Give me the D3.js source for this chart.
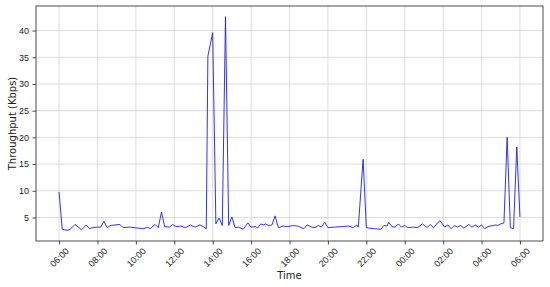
<!DOCTYPE html>
<html>
<head>
<meta charset="utf-8">
<script src="https://cdn.jsdelivr.net/npm/d3@7"></script>
<style>
  body { margin: 0; background: #fff; }
  svg { font-family: "DejaVu Sans", sans-serif; }
  .grid line { stroke: #d4d4d4; stroke-width: 0.8; }
</style>
</head>
<body>
<script>
// sample clock times (day rolls over after midnight)
const times = [
  '06:00','06:10','06:25','06:35','06:50','07:10','07:25','07:35','07:45','08:00',
  '08:10','08:20','08:30','08:40','08:55','09:10','09:20','09:40','09:55','10:10',
  '10:25','10:35','10:45','11:00','11:10','11:20','11:30','11:45','11:55','12:05',
  '12:20','12:35','12:50','13:05','13:20','13:30','13:40','13:45','14:00','14:10',
  '14:20','14:30','14:40','14:50','15:00','15:10','15:20','15:35','15:50','16:00',
  '16:15','16:20','16:30','16:40','16:45','16:55','17:05','17:15','17:25','17:40',
  '17:55','18:10','18:25','18:45','18:55','19:10','19:20','19:30','19:40','19:50',
  '20:00','20:20','20:45','21:05','21:20','21:30','21:35','21:50','22:00','22:10',
  '22:25','22:45','22:55','23:05','23:10','23:20','23:30','23:40','23:50','00:00',
  '00:10','00:25','00:40','00:55','01:10','01:20','01:30','01:40','01:50','02:05',
  '02:15','02:25','02:35','02:45','02:55','03:05','03:20','03:30','03:40','03:50',
  '04:00','04:10','04:20','04:35','04:45','04:50','05:00','05:10','05:20','05:30',
  '05:40','05:50','06:00'
];
const throughput = [
  9.8, 2.8, 2.6, 2.8, 3.7, 2.7, 3.6, 2.9, 3.1, 3.2,
  3.2, 4.3, 3.1, 3.5, 3.6, 3.7, 3.1, 3.2, 3.1, 3.0,
  2.9, 3.2, 2.9, 3.7, 3.1, 6.0, 3.3, 3.2, 3.7, 3.3,
  3.4, 3.1, 3.6, 3.2, 3.6, 3.3, 2.9, 35.2, 39.6, 3.8,
  4.9, 3.5, 42.6, 3.5, 5.1, 3.1, 3.2, 2.8, 4.0, 3.2,
  3.3, 3.0, 3.8, 3.6, 3.8, 3.5, 3.6, 5.3, 3.1, 3.4,
  3.3, 3.5, 3.4, 2.9, 3.6, 3.2, 3.1, 3.5, 3.2, 4.1,
  3.1, 3.2, 3.3, 3.4, 3.1, 3.6, 3.2, 15.9, 3.1, 3.0,
  2.9, 2.8, 3.5, 3.4, 4.1, 3.3, 3.2, 3.8, 3.2, 3.5,
  3.1, 3.2, 3.1, 3.8, 3.1, 3.7, 3.1, 3.8, 4.4, 3.2,
  3.6, 2.9, 3.5, 3.2, 3.5, 3.0, 3.7, 3.2, 3.6, 3.2,
  3.6, 2.9, 3.3, 3.5, 3.6, 3.5, 3.8, 4.0, 20.0, 3.1,
  2.9, 18.2, 5.1
];
const yTicks = [5, 10, 15, 20, 25, 30, 35, 40];

const W = 550, H = 287;
const margin = {top: 6, right: 7, bottom: 46, left: 36};
const width = W - margin.left - margin.right;
const height = H - margin.top - margin.bottom;

// build dates, adding a day when the clock wraps
const parse = d3.timeParse('%Y-%m-%d %H:%M');
let dayOffset = 0, prev = null;
const data = times.map((t, i) => {
  let d = d3.timeDay.offset(parse('2024-01-01 ' + t), dayOffset);
  if (prev && d < prev) { dayOffset += 1; d = d3.timeDay.offset(d, 1); }
  prev = d;
  return {date: d, value: throughput[i]};
});

const svg = d3.select('body').append('svg')
  .attr('width', W)
  .attr('height', H)
  .append('g')
  .attr('transform', `translate(${margin.left}, ${margin.top})`);

// matplotlib-style 5% padding on both axes
const [t0, t1] = d3.extent(data, d => d.date);
const padT = (t1 - t0) * 0.05;
const x = d3.scaleTime()
  .domain([new Date(+t0 - padT), new Date(+t1 + padT)])
  .range([0, width]);

const [v0, v1] = d3.extent(data, d => d.value);
const padV = (v1 - v0) * 0.05;
const y = d3.scaleLinear()
  .domain([v0 - padV, v1 + padV])
  .range([height, 0]);

const xTicks = d3.timeHour.every(2).range(t0, d3.timeMinute.offset(t1, 1));

// grid
const grid = svg.append('g').attr('class', 'grid');
grid.selectAll('.gx').data(xTicks).enter().append('line')
  .attr('x1', d => x(d)).attr('x2', d => x(d))
  .attr('y1', 0).attr('y2', height);
grid.selectAll('.gy').data(yTicks).enter().append('line')
  .attr('x1', 0).attr('x2', width)
  .attr('y1', d => y(d)).attr('y2', d => y(d));

// line
const line = d3.line()
  .x(d => x(d.date))
  .y(d => y(d.value));

svg.append('path')
  .datum(data)
  .attr('fill', 'none')
  .attr('stroke', '#1a1aff')
  .attr('stroke-width', 0.9)
  .attr('stroke-linejoin', 'round')
  .attr('d', line);

// axes
const xAxis = svg.append('g')
  .attr('transform', `translate(0, ${height})`)
  .call(d3.axisBottom(x).tickValues(xTicks).tickFormat(d3.timeFormat('%H:%M'))
    .tickSizeOuter(0).tickSizeInner(3.5).tickPadding(3.5));
xAxis.select('.domain').remove();
xAxis.selectAll('line').attr('stroke', '#222').attr('stroke-width', 0.8);
xAxis.selectAll('text')
  .attr('font-size', 9)
  .attr('fill', '#222')
  .attr('text-anchor', 'middle')
  .attr('dominant-baseline', 'central')
  .attr('dy', null)
  .attr('y', 16.5)
  .attr('transform', 'rotate(-45, 0, 16.5)');

const yAxis = svg.append('g')
  .call(d3.axisLeft(y).tickValues(yTicks)
    .tickSizeOuter(0).tickSizeInner(3.5).tickPadding(3.5));
yAxis.select('.domain').remove();
yAxis.selectAll('line').attr('stroke', '#222').attr('stroke-width', 0.8);
yAxis.selectAll('text').attr('font-size', 9).attr('fill', '#222');

// frame
svg.append('rect')
  .attr('width', width).attr('height', height)
  .attr('fill', 'none')
  .attr('stroke', '#222')
  .attr('stroke-width', 0.8);

// labels
svg.append('text')
  .attr('x', width / 2)
  .attr('y', height + 38)
  .attr('text-anchor', 'middle')
  .attr('font-size', 10)
  .attr('fill', '#222')
  .text('Time');

svg.append('text')
  .attr('transform', `translate(${-23.5}, ${height / 2}) rotate(-90)`)
  .attr('text-anchor', 'middle')
  .attr('dominant-baseline', 'central')
  .attr('font-size', 10)
  .attr('fill', '#222')
  .text('Throughput (Kbps)');
</script>
</body>
</html>
